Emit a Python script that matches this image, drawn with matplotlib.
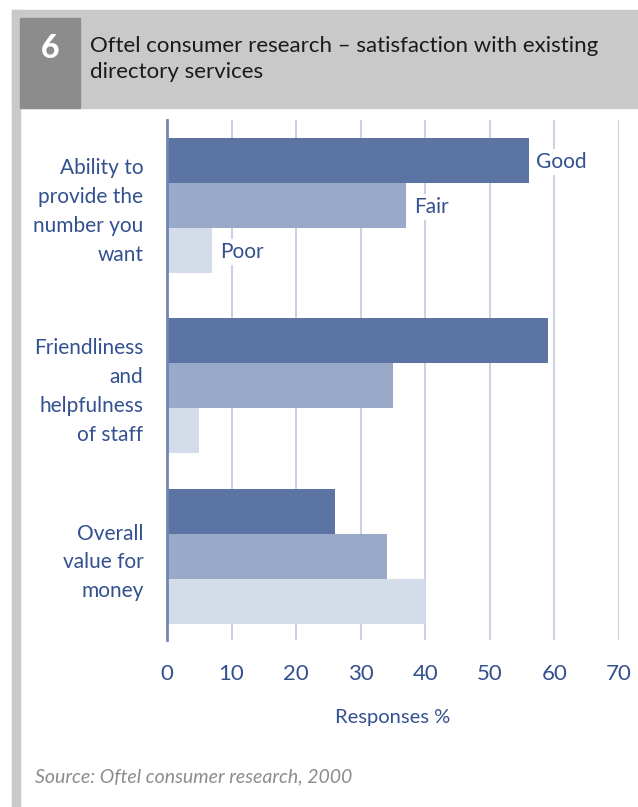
import numpy as np
import matplotlib
matplotlib.use('Agg')
import matplotlib.pyplot as plt
from matplotlib.patches import Rectangle

plt.rcParams['font.family'] = ['Lato', 'DejaVu Sans']

# data (responses %)
categories = ['Ability to\nprovide the\nnumber you\nwant',
              'Friendliness\nand\nhelpfulness\nof staff',
              'Overall\nvalue for\nmoney']
series = ['Good', 'Fair', 'Poor']
good = [56, 59, 26]
fair = [37, 35, 34]
poor = [7, 5, 40]
xticks = [0, 10, 20, 30, 40, 50, 60, 70]

colors = ['#5b74a4', '#99a9c8', '#d5dce9']
txt_blue = '#33508f'

W, H = 638, 807
fig = plt.figure(figsize=(W / 100, H / 100), dpi=100)


def fx(px):
    return px / W


def fy(py):
    return 1 - py / H


def rect(x0, y0, x1, y1, c):
    fig.patches.append(Rectangle((fx(x0), fy(y1)), fx(x1) - fx(x0), fy(y0) - fy(y1),
                                 transform=fig.transFigure, color=c, zorder=0))


# header band + left strip
rect(12, 10, 638, 108, '#c9c9c9')
rect(12, 10, 20, 807, '#c9c9c9')
rect(20, 18, 80, 108, '#8c8c8c')
fig.text(fx(50), fy(49), '6', color='white', fontsize=23, fontweight='black',
         ha='center', va='center')
fig.text(fx(90), fy(59), 'Oftel consumer research \u2013 satisfaction with existing\ndirectory services',
         color='#1a1a1a', fontsize=16, ha='left', va='center', linespacing=1.4)

# plot area
ax = fig.add_axes([fx(167), fy(640), fx(619) - fx(167), fy(120) - fy(640)])
ax.set_xlim(0, 70)
ax.set_ylim(640, 120)
group_y = np.array([205, 385, 556])
bh = 45
for i, (vals, c) in enumerate(zip([good, fair, poor], colors)):
    ax.barh(group_y + (i - 1) * bh, vals, height=bh, color=c, zorder=2)

# series labels on first group
for i, (vals, name) in enumerate(zip([good, fair, poor], series)):
    ax.text(vals[0] + 1.2, group_y[0] + (i - 1) * bh + 2, name, color=txt_blue, fontsize=15,
            ha='left', va='center', zorder=3,
            bbox=dict(facecolor='white', edgecolor='none', pad=2))

for s in ['top', 'right', 'bottom']:
    ax.spines[s].set_visible(False)
ax.spines['left'].set_color('#6f86b3')
ax.spines['left'].set_linewidth(2)
ax.set_xticks(xticks)
ax.set_xticklabels([str(t) for t in xticks], color=txt_blue, fontsize=16)
ax.tick_params(axis='x', length=0, pad=17)
ax.grid(axis='x', color='#bfc8dd', linewidth=1.2, zorder=0)
ax.set_axisbelow(True)
ax.set_yticks(group_y)
ax.set_yticklabels(categories, color=txt_blue, fontsize=15, linespacing=1.55)
ax.tick_params(axis='y', length=0, pad=17)

fig.text(fx(393), fy(717), 'Responses %', color=txt_blue, fontsize=14.5, ha='center', va='center')
fig.text(fx(35), fy(777), 'Source: Oftel consumer research, 2000', color='#8c8c8c',
         fontsize=14, style='italic', ha='left', va='center')

fig.savefig('out.png', dpi=100)
